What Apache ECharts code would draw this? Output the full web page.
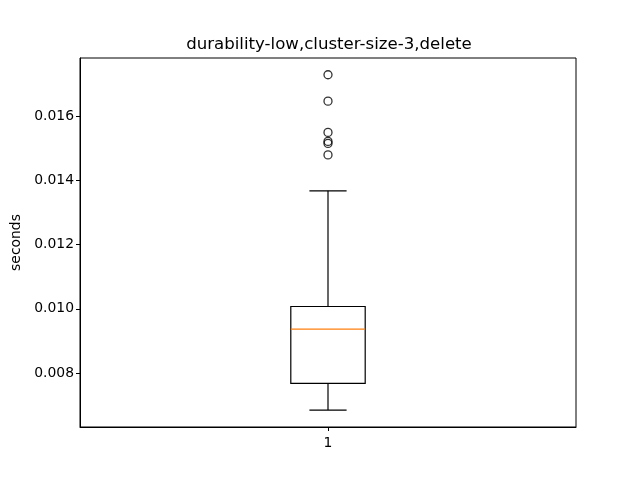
<!DOCTYPE html>
<html>
<head>
<meta charset="utf-8">
<script src="https://cdn.jsdelivr.net/npm/echarts@6/dist/echarts.min.js"></script>
<style>html,body{margin:0;padding:0;background:#fff;}#c{width:640px;height:480px;}</style>
</head>
<body>
<div id="c"></div>
<script>
const titleText = 'durability-low,cluster-size-3,delete';
const categories = ['1'];
// [lowWhisker, Q1, median, Q3, highWhisker]
const boxStats = [[0.006846, 0.007677, 0.009365, 0.010072, 0.013673]];
const outliers = [0.017288, 0.016467, 0.015493, 0.015213, 0.015151, 0.014793];
const yTicks = [0.008, 0.010, 0.012, 0.014, 0.016];

const chart = echarts.init(document.getElementById('c'), null, {renderer: 'canvas'});
const font = 'DejaVu Sans';
const boxData = boxStats.map((s, i) => [i + 1].concat(s));
const outlierData = outliers.map(v => [1, v]);

chart.setOption({
  animation: false,
  backgroundColor: '#fff',
  title: {
    text: titleText, left: 324, top: 31, textAlign: 'center',
    textStyle: {fontFamily: font, fontSize: 16.6, fontWeight: 'normal', color: '#000'}
  },
  grid: {left: 80, right: 64, top: 58, bottom: 53, show: true, borderColor: '#000', borderWidth: 1, backgroundColor: 'transparent', outerBoundsMode: 'none', containLabel: false},
  xAxis: {
    type: 'value', min: 0.5, max: 1.5,
    splitLine: {show: false},
    axisLine: {show: true, lineStyle: {color: '#000', width: 1}},
    axisTick: {show: true, length: 4, customValues: [1], lineStyle: {color: '#000'}},
    axisLabel: {customValues: [1], formatter: v => categories[Math.round(v) - 1], fontFamily: font, fontSize: 13.9, color: '#000', margin: 9}
  },
  yAxis: {
    type: 'value', min: 0.00632, max: 0.01781,
    name: 'seconds', nameLocation: 'middle', nameGap: 57,
    nameTextStyle: {fontFamily: font, fontSize: 13.9, color: '#000'},
    splitLine: {show: false},
    axisLine: {show: true, lineStyle: {color: '#000', width: 1}},
    axisTick: {show: true, length: 4, customValues: yTicks, lineStyle: {color: '#000'}},
    axisLabel: {customValues: yTicks, formatter: v => v.toFixed(3), fontFamily: font, fontSize: 13.9, color: '#000', margin: 6}
  },
  series: [
    {
      type: 'custom',
      data: boxData,
      encode: {x: 0, y: [1, 2, 3, 4, 5]},
      renderItem: function (params, api) {
        const x = api.value(0);
        const hw = 0.075, cw = 0.0375;
        const pLow = api.coord([x, api.value(1)]);
        const pQ1 = api.coord([x, api.value(2)]);
        const pMed = api.coord([x, api.value(3)]);
        const pQ3 = api.coord([x, api.value(4)]);
        const pHigh = api.coord([x, api.value(5)]);
        const xl = api.coord([x - hw, 0])[0], xr = api.coord([x + hw, 0])[0];
        const cl = api.coord([x - cw, 0])[0], cr = api.coord([x + cw, 0])[0];
        const st = {stroke: '#000', lineWidth: 1.2, fill: null};
        return {
          type: 'group',
          children: [
            {type: 'line', shape: {x1: pLow[0], y1: pLow[1], x2: pQ1[0], y2: pQ1[1]}, style: st},
            {type: 'line', shape: {x1: pQ3[0], y1: pQ3[1], x2: pHigh[0], y2: pHigh[1]}, style: st},
            {type: 'line', shape: {x1: cl, y1: pLow[1], x2: cr, y2: pLow[1]}, style: st},
            {type: 'line', shape: {x1: cl, y1: pHigh[1], x2: cr, y2: pHigh[1]}, style: st},
            {type: 'rect', shape: {x: xl, y: pQ3[1], width: xr - xl, height: pQ1[1] - pQ3[1]}, style: st},
            {type: 'line', shape: {x1: xl, y1: pMed[1], x2: xr, y2: pMed[1]}, style: {stroke: '#ff7f0e', lineWidth: 1.2}}
          ]
        };
      }
    },
    {
      type: 'scatter',
      data: outlierData,
      symbol: 'circle',
      symbolSize: 8,
      itemStyle: {color: 'rgba(0,0,0,0)', borderColor: '#000', borderWidth: 1.3}
    }
  ]
});
</script>
</body>
</html>
